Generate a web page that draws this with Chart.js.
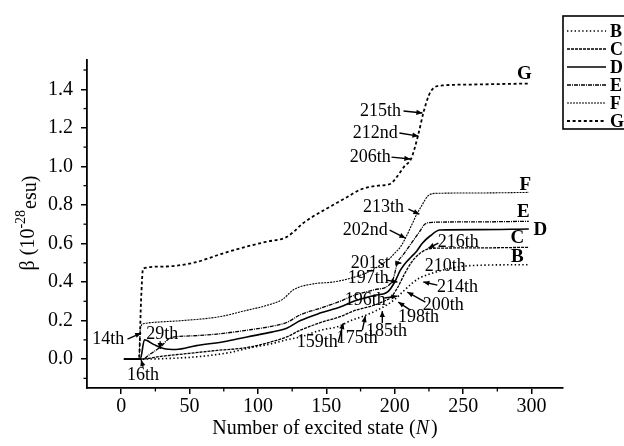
<!DOCTYPE html>
<html><head><meta charset="utf-8">
<script src="https://cdn.jsdelivr.net/npm/chart.js@4"></script>
<style>html,body{margin:0;padding:0;background:#fff;overflow:hidden}</style>
</head><body>
<canvas id="c" width="624" height="446"></canvas>
<script>
// ---- data ----
const seriesNames = ['B','C','D','E','F','G'];
const bN    = [2,14,40,60,80,92,110,121,131,146,159,168,176,186,194,200,206,212,218,225,240,255,298];
const bBeta = [0,0,0.005,0.015,0.035,0.055,0.08,0.10,0.115,0.15,0.17,0.20,0.22,0.25,0.28,0.31,0.35,0.39,0.42,0.44,0.47,0.485,0.49];
const cN    = [2,14,30,50,70,92,110,121,131,146,160,170,185,192,197,202,207,212,217,222,228,260,298];
const cBeta = [0,0,0.015,0.03,0.045,0.06,0.09,0.115,0.15,0.19,0.22,0.25,0.28,0.30,0.32,0.37,0.44,0.50,0.54,0.565,0.575,0.577,0.58];
const dN    = [2,14,17,24,31,40,55,75,92,110,121,131,146,160,170,185,195,200,204,208,212,216,220,226,233,260,298];
const dBeta = [0,0,0.10,0.075,0.055,0.05,0.07,0.09,0.115,0.14,0.16,0.20,0.24,0.27,0.30,0.33,0.35,0.40,0.46,0.50,0.53,0.56,0.60,0.64,0.67,0.672,0.675];
const eN    = [2,16,20,29,36,50,70,92,110,121,131,146,160,170,185,195,199,202,206,210,214,218,222,228,260,298];
const eBeta = [0,0,0.02,0.065,0.11,0.12,0.13,0.15,0.17,0.19,0.23,0.265,0.30,0.33,0.36,0.38,0.42,0.50,0.54,0.58,0.62,0.66,0.70,0.71,0.712,0.715];
const fN    = [2,13,14,17,23,45,72,90,107,118,126,140,155,168,180,190,196,200,204,208,212,216,220,224,230,260,298];
const fBeta = [0,0,0.16,0.185,0.19,0.20,0.22,0.25,0.28,0.31,0.36,0.39,0.40,0.42,0.45,0.49,0.52,0.55,0.58,0.63,0.69,0.75,0.80,0.845,0.86,0.862,0.865];
const gN    = [2,13,14.5,16,30,53,75,95,107,120,126,132,138,150,165,175,188,197,202,207,212,217,221,225,229,235,260,298];
const gBeta = [0,0,0.30,0.47,0.48,0.50,0.55,0.59,0.61,0.63,0.66,0.70,0.73,0.78,0.84,0.88,0.90,0.91,0.95,1.00,1.04,1.16,1.28,1.37,1.41,1.42,1.425,1.43];
const xTicks = [0,50,100,150,200,250,300];
const yTicks = [0.0,0.2,0.4,0.6,0.8,1.0,1.2,1.4];
const xMinorTicks = [25,75,125,175,225,275];
const yMinorTicks = [-0.1,0.1,0.3,0.5,0.7,0.9,1.1,1.3,1.5];

// annotation labels: [text, textN, textBeta, arrowFromN, arrowFromBeta, arrowToN, arrowToBeta]
const notes = [
  ['14th', -9.5, 0.104, 4.6, 0.104, 14.6, 0.135],
  ['29th', 30, 0.13, 28.5, 0.093, 28.5, 0.052],
  ['16th', 16, -0.083, 16, -0.04, 14.6, -0.005],
  ['159th', 143.4, 0.088, 158.7, 0.088, 162.4, 0.187],
  ['175th', 172.6, 0.109, 176.3, 0.15, 178.5, 0.223],
  ['185th', 193.9, 0.145, 190.9, 0.187, 190.9, 0.249],
  ['198th', 217.3, 0.218, 211.4, 0.254, 202.6, 0.296],
  ['200th', 235.5, 0.28, 222.4, 0.296, 209.2, 0.348],
  ['196th', 178.5, 0.306, 192.5, 0.317, 201.9, 0.327],
  ['214th', 245.8, 0.374, 231.2, 0.384, 220.9, 0.40],
  ['197th', 180.7, 0.42, 194, 0.41, 201.9, 0.40],
  ['210th', 237, 0.483, null, null, null, null],
  ['201st', 182.1, 0.498, 200.5, 0.498, 204.8, 0.498],
  ['216th', 246.5, 0.607, 231.9, 0.602, 224.6, 0.576],
  ['202nd', 178.5, 0.669, 196.3, 0.669, 207.8, 0.628],
  ['213th', 191.7, 0.789, 210, 0.778, 218, 0.752],
  ['206th', 182.1, 1.048, 197.6, 1.048, 211.4, 1.038],
  ['212nd', 185.8, 1.173, 203.4, 1.173, 217.3, 1.157],
  ['215th', 189.5, 1.287, 206.4, 1.287, 220.2, 1.277]
];
// end-of-curve letters: [letter, N, beta]
const endLabels = [['G',294.8,1.479],['F',295.5,0.903],['E',294,0.763],['D',306.5,0.669],['C',289.7,0.628],['B',289.7,0.529]];

// ---- styles ----
const SERIF = '"Liberation Serif","Times New Roman",serif';
const styles = {
  B:{w:1.6, dash:[1.4,2.4]},
  C:{w:1.3, dash:[3,1]},
  D:{w:1.6, dash:[]},
  E:{w:1.3, dash:[4,1,1,1]},
  F:{w:1.1, dash:[2,1]},
  G:{w:1.8, dash:[3,2.6]}
};
const xs = {B:bN,C:cN,D:dN,E:eN,F:fN,G:gN};
const ys = {B:bBeta,C:cBeta,D:dBeta,E:eBeta,F:fBeta,G:gBeta};
const datasets = seriesNames.map(n => ({
  label:n,
  data: xs[n].map((x,i)=>({x, y: ys[n][i]})),
  borderColor:'#000', borderWidth:styles[n].w, borderDash:styles[n].dash,
  pointRadius:0, fill:false, cubicInterpolationMode:'monotone'
}));

function arrow(ctx, x1,y1,x2,y2){
  ctx.save();
  ctx.strokeStyle='#000'; ctx.fillStyle='#000'; ctx.lineWidth=1.4; ctx.setLineDash([]);
  ctx.beginPath(); ctx.moveTo(x1,y1); ctx.lineTo(x2,y2); ctx.stroke();
  const a=Math.atan2(y2-y1,x2-x1), L=6, W=2.6;
  ctx.beginPath();
  ctx.moveTo(x2,y2);
  ctx.lineTo(x2-L*Math.cos(a)+W*Math.sin(a), y2-L*Math.sin(a)-W*Math.cos(a));
  ctx.lineTo(x2-L*Math.cos(a)-W*Math.sin(a), y2-L*Math.sin(a)+W*Math.cos(a));
  ctx.closePath(); ctx.fill();
  ctx.restore();
}

const decor = {
  id:'decor',
  afterDraw(chart){
    const ctx=chart.ctx, X=chart.scales.x, Y=chart.scales.y, ca=chart.chartArea;
    ctx.save();
    // minor ticks
    ctx.strokeStyle='#000'; ctx.lineWidth=1.3;
    xMinorTicks.forEach(v=>{ const p=X.getPixelForValue(v); ctx.beginPath(); ctx.moveTo(p,ca.bottom); ctx.lineTo(p,ca.bottom+3.5); ctx.stroke(); });
    yMinorTicks.forEach(v=>{ const p=Y.getPixelForValue(v); ctx.beginPath(); ctx.moveTo(ca.left,p); ctx.lineTo(ca.left-3.5,p); ctx.stroke(); });
    // annotations
    ctx.fillStyle='#000'; ctx.font='18px '+SERIF; ctx.textAlign='center'; ctx.textBaseline='middle';
    notes.forEach(n=>{
      ctx.fillText(n[0], X.getPixelForValue(n[1]), Y.getPixelForValue(n[2]));
      if(n[3]!==null) arrow(ctx, X.getPixelForValue(n[3]), Y.getPixelForValue(n[4]), X.getPixelForValue(n[5]), Y.getPixelForValue(n[6]));
    });
    // end letters
    ctx.font='bold 19px '+SERIF;
    endLabels.forEach(l=>ctx.fillText(l[0], X.getPixelForValue(l[1]), Y.getPixelForValue(l[2])));
    // legend box
    ctx.lineWidth=1.6; ctx.setLineDash([]);
    ctx.strokeRect(563,16,80,113);
    ctx.font='bold 18px '+SERIF; ctx.textAlign='left';
    seriesNames.forEach((n,i)=>{
      const y=31+i*18;
      ctx.save(); ctx.lineWidth=styles[n].w; ctx.setLineDash(styles[n].dash);
      ctx.beginPath(); ctx.moveTo(567,y); ctx.lineTo(606,y); ctx.stroke(); ctx.restore();
      ctx.fillText(n, 610, y+1);
    });
    // x title
    ctx.textBaseline='alphabetic';
    const t1='Number of excited state (', t2='N', t3=')';
    ctx.font='20px '+SERIF; const w1=ctx.measureText(t1).width, w3=ctx.measureText(t3).width;
    ctx.font='italic 20px '+SERIF; const w2=ctx.measureText(t2).width+2;
    let sx=(ca.left+ca.right)/2 - (w1+w2+w3)/2; const by=434;
    ctx.font='20px '+SERIF; ctx.fillText(t1,sx,by);
    ctx.font='italic 20px '+SERIF; ctx.fillText(t2,sx+w1,by);
    ctx.font='20px '+SERIF; ctx.fillText(t3,sx+w1+w2,by);
    // y title (rotated)
    ctx.translate(27,(ca.top+ca.bottom)/2-1); ctx.rotate(-Math.PI/2);
    const a1='\u03B2 (10', a2='-28', a3='esu)';
    ctx.font='20px '+SERIF; const u1=ctx.measureText(a1).width, u3=ctx.measureText(a3).width;
    ctx.font='14px '+SERIF; const u2=ctx.measureText(a2).width+1;
    let s=-(u1+u2+u3)/2;
    ctx.font='20px '+SERIF; ctx.fillText(a1,s,7);
    ctx.font='14px '+SERIF; ctx.fillText(a2,s+u1,-2);
    ctx.font='20px '+SERIF; ctx.fillText(a3,s+u1+u2,9);
    ctx.restore();
  }
};

new Chart(document.getElementById('c').getContext('2d'), {
  type:'line',
  data:{datasets},
  options:{
    responsive:false, animation:false, devicePixelRatio:1,
    layout:{padding:{left:0,right:61,top:60,bottom:0}},
    plugins:{legend:{display:false}, tooltip:{enabled:false}, title:{display:false}},
    scales:{
      x:{type:'linear', min:-25, max:323,
        afterFit(s){ s.height=58; },
        afterBuildTicks(s){ s.ticks = xTicks.map(v=>({value:v})); },
        ticks:{autoSkip:false, maxRotation:0, color:'#000', padding:1,
          font:{family:SERIF, size:20}, callback:v=>String(v)},
        grid:{drawOnChartArea:false, drawTicks:true, tickLength:6, color:'#000', lineWidth:1.5},
        border:{display:true, color:'#000', width:1.8}},
      y:{type:'linear', min:-0.15, max:1.552,
        afterFit(s){ s.width=87; },
        afterBuildTicks(s){ s.ticks = yTicks.map(v=>({value:v})); },
        ticks:{autoSkip:false, color:'#000', padding:8,
          font:{family:SERIF, size:20}, callback:v=>Number(v).toFixed(1)},
        grid:{drawOnChartArea:false, drawTicks:true, tickLength:6, color:'#000', lineWidth:1.5},
        border:{display:true, color:'#000', width:1.8}}
    }
  },
  plugins:[decor]
});
</script>
</body></html>
